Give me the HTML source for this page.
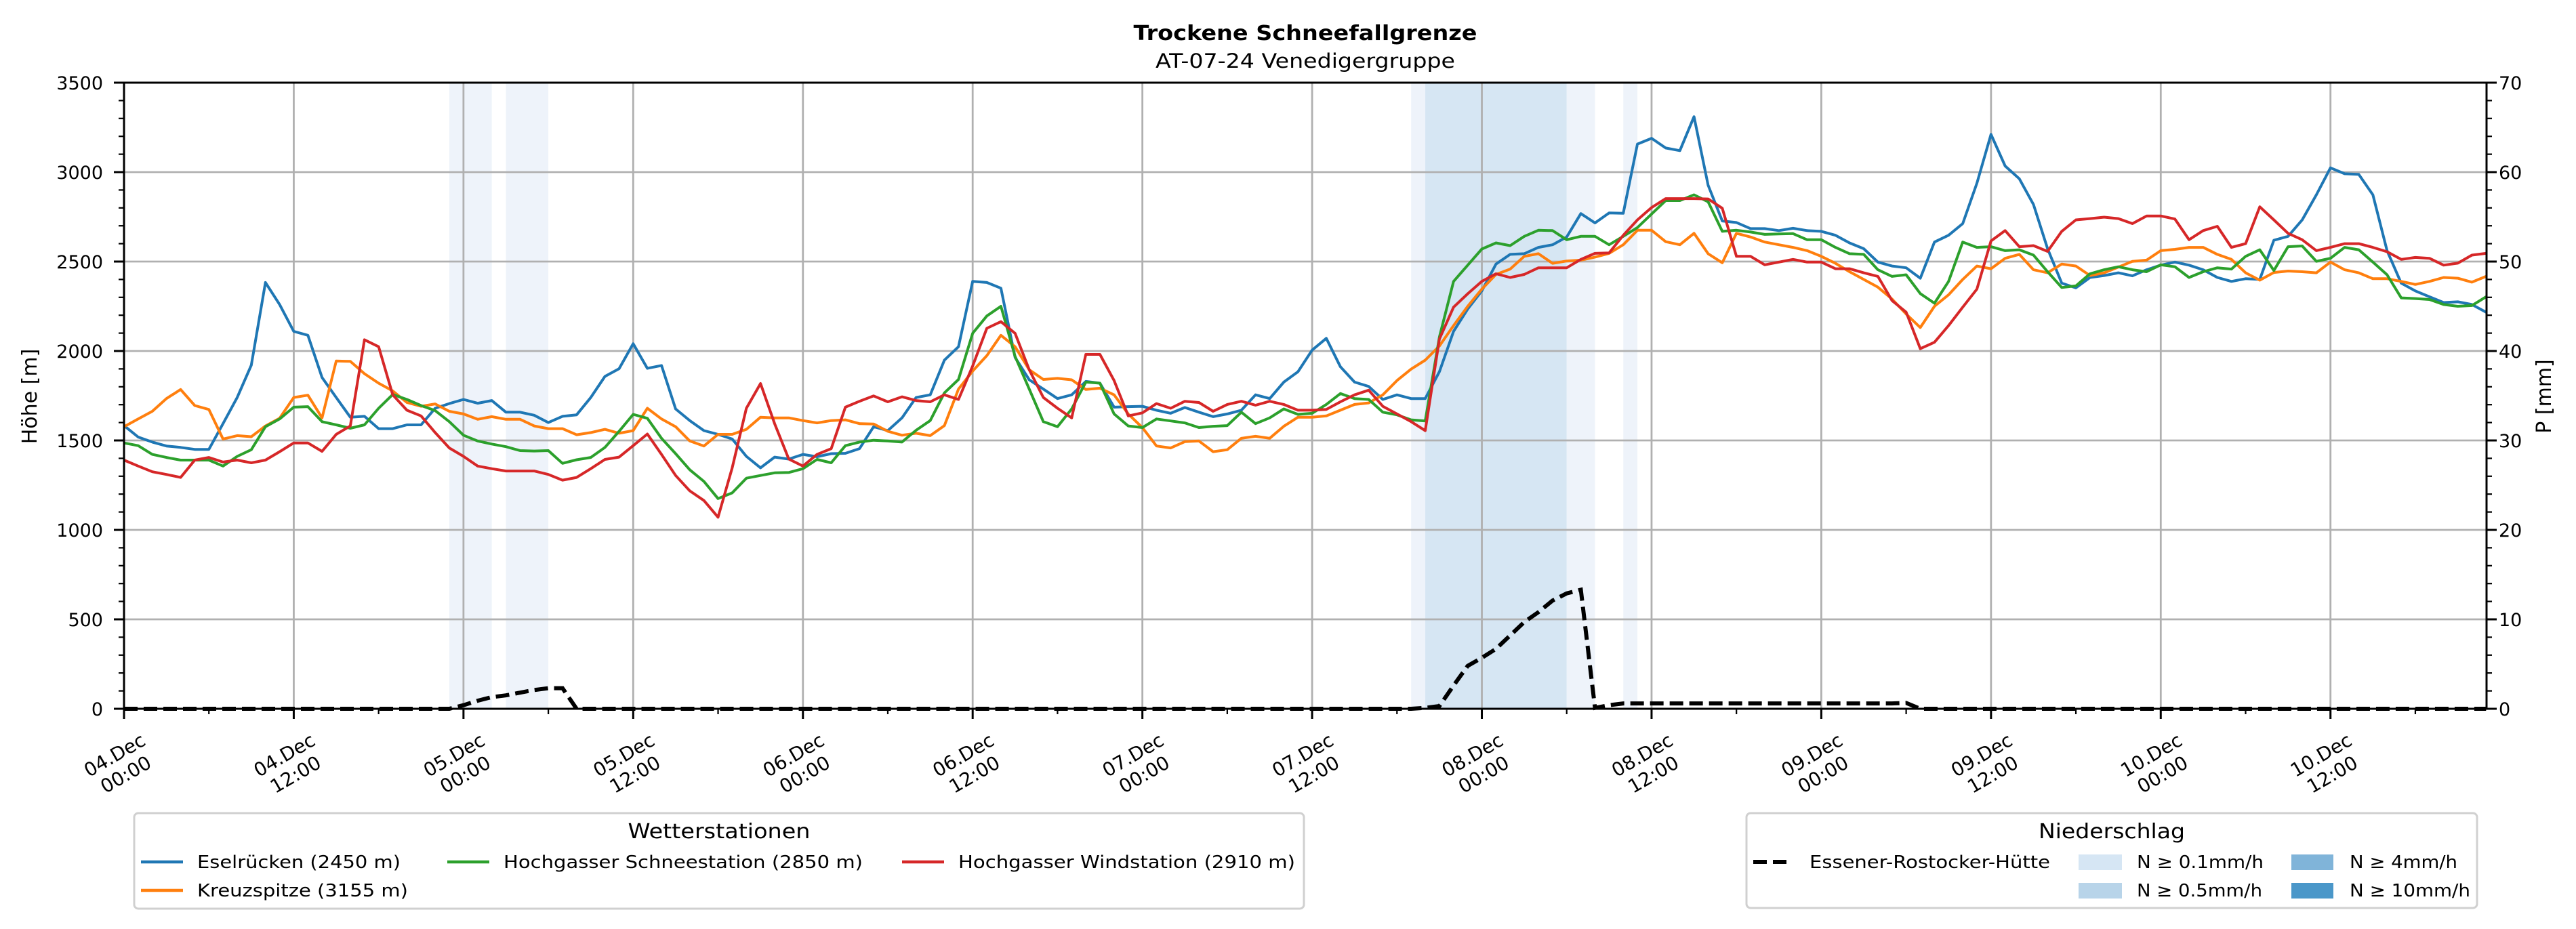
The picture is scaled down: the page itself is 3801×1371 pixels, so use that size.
<!DOCTYPE html>
<html><head><meta charset="utf-8">
<style>
html,body{margin:0;padding:0;background:#fff;}
svg{display:block;font-family:"DejaVu Sans","Liberation Sans",sans-serif;}
</style></head>
<body>
<svg id="chart" width="3801" height="1371" viewBox="0 0 3801 1371" xmlns="http://www.w3.org/2000/svg">
<rect x="0" y="0" width="3801" height="1371" fill="#fff"/>
<text x="1926" y="59" text-anchor="middle" font-size="30" font-weight="bold" textLength="507" lengthAdjust="spacingAndGlyphs">Trockene Schneefallgrenze</text>
<text x="1926" y="100" text-anchor="middle" font-size="29" textLength="442" lengthAdjust="spacingAndGlyphs">AT-07-24 Venedigergruppe</text>
<g id="bands"></g>
<g id="grid"></g>
<g id="series"></g>
<g id="axes"></g>
<text transform="translate(54,585) rotate(-90)" text-anchor="middle" font-size="30">Höhe [m]</text>
<text transform="translate(3764,585) rotate(-90)" text-anchor="middle" font-size="30">P [mm]</text>

<g>
<rect x="198" y="1200" width="1726" height="141" rx="6" fill="#fff" stroke="#d0d0d0" stroke-width="3"/>
<text x="1061" y="1237" text-anchor="middle" font-size="30" textLength="269" lengthAdjust="spacingAndGlyphs">Wetterstationen</text>
<g><line x1="208" y1="1272" x2="270" y2="1272" stroke="#1f77b4" stroke-width="4.5"/><text x="291" y="1281" font-size="26" textLength="300" lengthAdjust="spacingAndGlyphs">Eselrücken (2450 m)</text></g>
<g><line x1="208" y1="1314" x2="270" y2="1314" stroke="#ff7f0e" stroke-width="4.5"/><text x="291" y="1323" font-size="26" textLength="311" lengthAdjust="spacingAndGlyphs">Kreuzspitze (3155 m)</text></g>
<g><line x1="660" y1="1272" x2="722" y2="1272" stroke="#2ca02c" stroke-width="4.5"/><text x="743" y="1281" font-size="26" textLength="530" lengthAdjust="spacingAndGlyphs">Hochgasser Schneestation (2850 m)</text></g>
<g><line x1="1331" y1="1272" x2="1393" y2="1272" stroke="#d62728" stroke-width="4.5"/><text x="1414" y="1281" font-size="26" textLength="497" lengthAdjust="spacingAndGlyphs">Hochgasser Windstation (2910 m)</text></g>
</g>

<g>
<rect x="2577" y="1200" width="1078" height="140" rx="6" fill="#fff" stroke="#d0d0d0" stroke-width="3"/>
<text x="3116" y="1237" text-anchor="middle" font-size="30" textLength="216" lengthAdjust="spacingAndGlyphs">Niederschlag</text>
<g><line x1="2587" y1="1272" x2="2645" y2="1272" stroke="#000" stroke-width="6" stroke-dasharray="20 9"/><text x="2670" y="1281" font-size="26" textLength="355" lengthAdjust="spacingAndGlyphs">Essener-Rostocker-Hütte</text></g>
<g><rect x="3067" y="1261" width="64" height="23" fill="#d6e6f4"/><text x="3153" y="1281" font-size="26" textLength="187" lengthAdjust="spacingAndGlyphs">N ≥ 0.1mm/h</text></g>
<g><rect x="3067" y="1303" width="64" height="23" fill="#b8d4e9"/><text x="3153" y="1323" font-size="26" textLength="185" lengthAdjust="spacingAndGlyphs">N ≥ 0.5mm/h</text></g>
<g><rect x="3381" y="1261" width="62" height="23" fill="#80b4d9"/><text x="3467" y="1281" font-size="26" textLength="159" lengthAdjust="spacingAndGlyphs">N ≥ 4mm/h</text></g>
<g><rect x="3381" y="1303" width="62" height="23" fill="#4a97c9"/><text x="3467" y="1323" font-size="26" textLength="178" lengthAdjust="spacingAndGlyphs">N ≥ 10mm/h</text></g>
</g>
</svg>
<script>
const blueVals = [1583,1519,1491,1469,1461,1450,1450,1594,1740,1921,2383,2260,2110,2088,1852,1740,1630,1635,1566,1566,1587,1587,1680,1706,1729,1708,1723,1658,1658,1641,1600,1635,1643,1740,1858,1901,2041,1903,1919,1676,1611,1555,
1534,1508,1411,1347,1407,1396,1422,1409,1426,1428,1454,1577,1555,1626,1740,1755,1949,2024,2389,2383,2351,1964,1839,1787,1734,1755,1830,1820,1686,1689,1691,1669,1652,1684,1658,1633,1648,1669,1755,1734,1826,1884,
2005,2071,1912,1826,1802,1729,1755,1734,1734,1884,2110,2235,2336,2486,2540,2544,2579,2594,2637,2768,2716,2772,2770,3157,3189,3135,3120,3310,2927,2727,2718,2684,2684,2673,2686,2673,2669,2647,2604,2572,2497,
2475,2465,2407,2609,2647,2712,2938,3211,3034,2963,2819,2572,2379,2353,2411,2422,2437,2420,2454,2480,2497,2480,2454,2411,2389,2404,2400,2619,2641,2733,2873,3024,2991,2987,2873,2561,2379,2336,2303,2271,2275,2260,2217];
const orangeVals = [1577,1620,1663,1734,1785,1695,1673,1508,1527,1521,1581,1624,1740,1753,1626,1944,1942,1873,1820,1777,1712,1691,1704,1663,1648,1618,1633,1618,1618,1581,1566,1566,1532,1544,1562,1540,1555,1680,1620,1577,1497,1469,
1534,1534,1562,1630,1626,1626,1611,1598,1611,1615,1594,1592,1551,1529,1540,1527,1583,1787,1888,1974,2088,2024,1895,1841,1847,1839,1785,1792,1755,1648,1572,1469,1458,1493,1497,1437,1448,1512,1523,1512,1579,1630,
1630,1637,1669,1701,1710,1755,1835,1899,1949,2028,2142,2250,2346,2428,2458,2529,2544,2490,2503,2508,2525,2546,2594,2675,2675,2611,2594,2658,2544,2493,2658,2637,2609,2594,2579,2561,2529,2490,2443,2400,2357,
2290,2207,2131,2250,2314,2400,2475,2460,2518,2540,2454,2437,2486,2475,2422,2437,2469,2501,2508,2561,2568,2579,2579,2540,2512,2437,2396,2439,2447,2443,2437,2497,2454,2437,2404,2404,2389,2372,2389,2411,2407,2385,2417];
const greenVals = [1486,1471,1422,1405,1390,1390,1390,1357,1411,1448,1577,1620,1686,1689,1605,1587,1568,1587,1680,1757,1729,1695,1667,1605,1529,1497,1480,1465,1443,1441,1443,1372,1392,1405,1461,1551,1646,1624,1512,1426,1336,1271,
1175,1207,1289,1304,1319,1321,1342,1394,1375,1471,1491,1501,1497,1491,1557,1611,1766,1841,2099,2196,2250,1970,1787,1605,1577,1676,1826,1820,1648,1581,1572,1620,1609,1598,1572,1579,1583,1658,1594,1626,1676,1646,
1652,1701,1762,1734,1729,1658,1643,1615,1609,2078,2389,2480,2570,2604,2589,2641,2675,2673,2622,2641,2641,2594,2641,2690,2766,2841,2841,2873,2834,2669,2675,2665,2652,2654,2656,2622,2622,2579,2544,2540,2454,
2417,2426,2321,2267,2389,2609,2579,2583,2561,2566,2536,2443,2355,2364,2432,2454,2471,2454,2443,2482,2471,2411,2443,2465,2458,2529,2566,2450,2583,2587,2501,2518,2579,2566,2497,2426,2297,2293,2288,2260,2250,2254,2303];
const redVals = [1390,1357,1325,1310,1293,1390,1405,1379,1390,1375,1390,1437,1486,1486,1439,1534,1581,2063,2024,1755,1669,1637,1544,1458,1411,1357,1342,1329,1329,1329,1310,1278,1293,1342,1394,1407,1471,1536,1422,1304,1218,1164,
1071,1347,1680,1818,1594,1396,1357,1422,1454,1686,1719,1749,1716,1744,1723,1716,1755,1729,1916,2127,2164,2099,1895,1740,1680,1626,1981,1981,1835,1637,1654,1706,1680,1719,1712,1663,1701,1719,1697,1719,1701,1669,
1669,1673,1716,1755,1781,1691,1648,1605,1555,2067,2245,2320,2389,2432,2411,2428,2465,2465,2465,2512,2546,2548,2647,2733,2802,2852,2852,2852,2850,2798,2529,2529,2482,2497,2512,2497,2497,2460,2460,2437,2417,
2282,2217,2013,2049,2142,2245,2346,2615,2673,2583,2589,2557,2669,2733,2740,2748,2740,2712,2755,2755,2738,2622,2673,2697,2579,2600,2806,2733,2658,2622,2561,2579,2600,2600,2579,2555,2512,2523,2518,2480,2491,2536,2546];
const precipVals = [0,0,0,0,0,0,0,0,0,0,0,0,0,0,0,0,0,0,0,0,0,0,0,0,0.4,0.9,1.3,1.5,1.8,2.1,2.3,2.3,0,0,0,0,0,0,0,0,
0,0,0,0,0,0,0,0,0,0,0,0,0,0,0,0,0,0,0,0,0,0,0,0,0,0,0,0,0,0,0,0,0,0,0,0,0,0,0,0,
0,0,0,0,0,0,0,0,0,0,0,0,0.1,0.3,2.6,4.8,5.7,6.7,8.2,9.7,10.8,12.1,12.9,13.3,0.1,0.4,0.6,0.6,0.6,0.6,0.6,0.6,0.6,0.6,0.6,0.6,0.6,0.6,0.6,0.6,
0.6,0.6,0.6,0.6,0.6,0.6,0.65,0,0,0,0,0,0,0,0,0,
0,0,0,0,0,0,0,0,0,0,
0,0,0,0,0,0,0,0,0,0,
0,0,0,0,0,0,0,0,0,0,
0,0,0,0,0,0,0,0,0,0,0];
const bandStart = [23,27,91,92,102,106];
const bandEnd = [26,30,92,102,104,107];
const bandLevel = [0.1,0.1,0.1,0.5,0.1,0.1];
const yTicks = [0,500,1000,1500,2000,2500,3000,3500];
const y2Ticks = [0,10,20,30,40,50,60,70];
const xTickDates = ["04.Dec","04.Dec","05.Dec","05.Dec","06.Dec","06.Dec","07.Dec","07.Dec","08.Dec","08.Dec","09.Dec","09.Dec","10.Dec","10.Dec"];
const xTickTimes = ["00:00","12:00","00:00","12:00","00:00","12:00","00:00","12:00","00:00","12:00","00:00","12:00","00:00","12:00"];

const NS = "http://www.w3.org/2000/svg";
const L = 183, R = 3669, T = 122, B = 1046, HOURS_PX = 20.87;
const X = h => L + h * HOURS_PX;
const Y = v => B - v * (B - T) / 3500;
const Y2 = p => B - p * (B - T) / 70;
function mk(tag, attrs, parent) {
  const e = document.createElementNS(NS, tag);
  for (const k in attrs) e.setAttribute(k, attrs[k]);
  parent.appendChild(e);
  return e;
}
const gBands = document.getElementById('bands');
const gGrid = document.getElementById('grid');
const gSeries = document.getElementById('series');
const gAxes = document.getElementById('axes');

bandStart.forEach((s, i) => {
  const r = mk('rect', {x: X(s), y: T, width: X(bandEnd[i]) - X(s), height: B - T, fill: bandLevel[i] >= 0.5 ? '#d6e6f3' : '#eef3fa'}, gBands);
  
  
});

yTicks.forEach(v => {
  const gl = mk('line', {x1: L, x2: R, y1: Y(v), y2: Y(v), stroke: '#b0b0b0', 'stroke-width': 2.8}, gGrid);
  
  
});
xTickDates.forEach((d, i) => {
  const gl = mk('line', {x1: X(i * 12), x2: X(i * 12), y1: T, y2: B, stroke: '#b0b0b0', 'stroke-width': 2.8}, gGrid);
  
  
});

function series(vals, color, name) {
  const pts = vals.map((v, i) => X(i).toFixed(1) + ',' + Y(v).toFixed(1)).join(' ');
  const pl = mk('polyline', {points: pts, fill: 'none', stroke: color, 'stroke-width': 4, 'stroke-linejoin': 'round'}, gSeries);
  
  
}
series(blueVals, '#1f77b4', 'line-eselruecken');
series(orangeVals, '#ff7f0e', 'line-kreuzspitze');
series(greenVals, '#2ca02c', 'line-hochgasser-schneestation');
series(redVals, '#d62728', 'line-hochgasser-windstation');
const ppts = precipVals.slice(0, 168).map((p, i) => X(i).toFixed(1) + ',' + Y2(p).toFixed(1)).join(' ');
const pline = mk('polyline', {points: ppts, fill: 'none', stroke: '#000', 'stroke-width': 6, 'stroke-dasharray': '20 9'}, gSeries);



const frame = mk('rect', {x: L, y: T, width: R - L, height: B - T, fill: 'none', stroke: '#000', 'stroke-width': 3}, gAxes);



yTicks.forEach(v => {
  mk('line', {x1: L - 15, x2: L, y1: Y(v), y2: Y(v), stroke: '#000', 'stroke-width': 3}, gAxes);
  const t = mk('text', {x: 152, y: Y(v) + 10, 'text-anchor': 'end', 'font-size': 27}, gAxes);
  t.textContent = v;
  
  
});
for (let v = 100; v < 3500; v += 100) {
  if (v % 500 === 0) continue;
  mk('line', {x1: L - 8, x2: L, y1: Y(v), y2: Y(v), stroke: '#000', 'stroke-width': 2.2}, gAxes);
}
y2Ticks.forEach(p => {
  mk('line', {x1: R, x2: R + 15, y1: Y2(p), y2: Y2(p), stroke: '#000', 'stroke-width': 3}, gAxes);
  const t = mk('text', {x: 3687, y: Y2(p) + 10, 'text-anchor': 'start', 'font-size': 27}, gAxes);
  t.textContent = p;
  
  
});
for (let p = 2; p < 70; p += 2) {
  if (p % 10 === 0) continue;
  mk('line', {x1: R, x2: R + 8, y1: Y2(p), y2: Y2(p), stroke: '#000', 'stroke-width': 2.2}, gAxes);
}
xTickDates.forEach((d, i) => {
  const x = X(i * 12);
  mk('line', {x1: x, x2: x, y1: B, y2: B + 15, stroke: '#000', 'stroke-width': 3}, gAxes);
  const g = mk('g', {transform: 'translate(' + (x - 6) + ',1128) rotate(-30)'}, gAxes);
  
  
  const t1 = mk('text', {x: 0, y: -6, 'text-anchor': 'middle', 'font-size': 28}, g);
  t1.textContent = d;
  const t2 = mk('text', {x: 0, y: 27, 'text-anchor': 'middle', 'font-size': 28}, g);
  t2.textContent = xTickTimes[i];
});
for (let h = 6; h < 168; h += 12) {
  mk('line', {x1: X(h), x2: X(h), y1: B, y2: B + 8, stroke: '#000', 'stroke-width': 2.2}, gAxes);
}
</script>
</body></html>
